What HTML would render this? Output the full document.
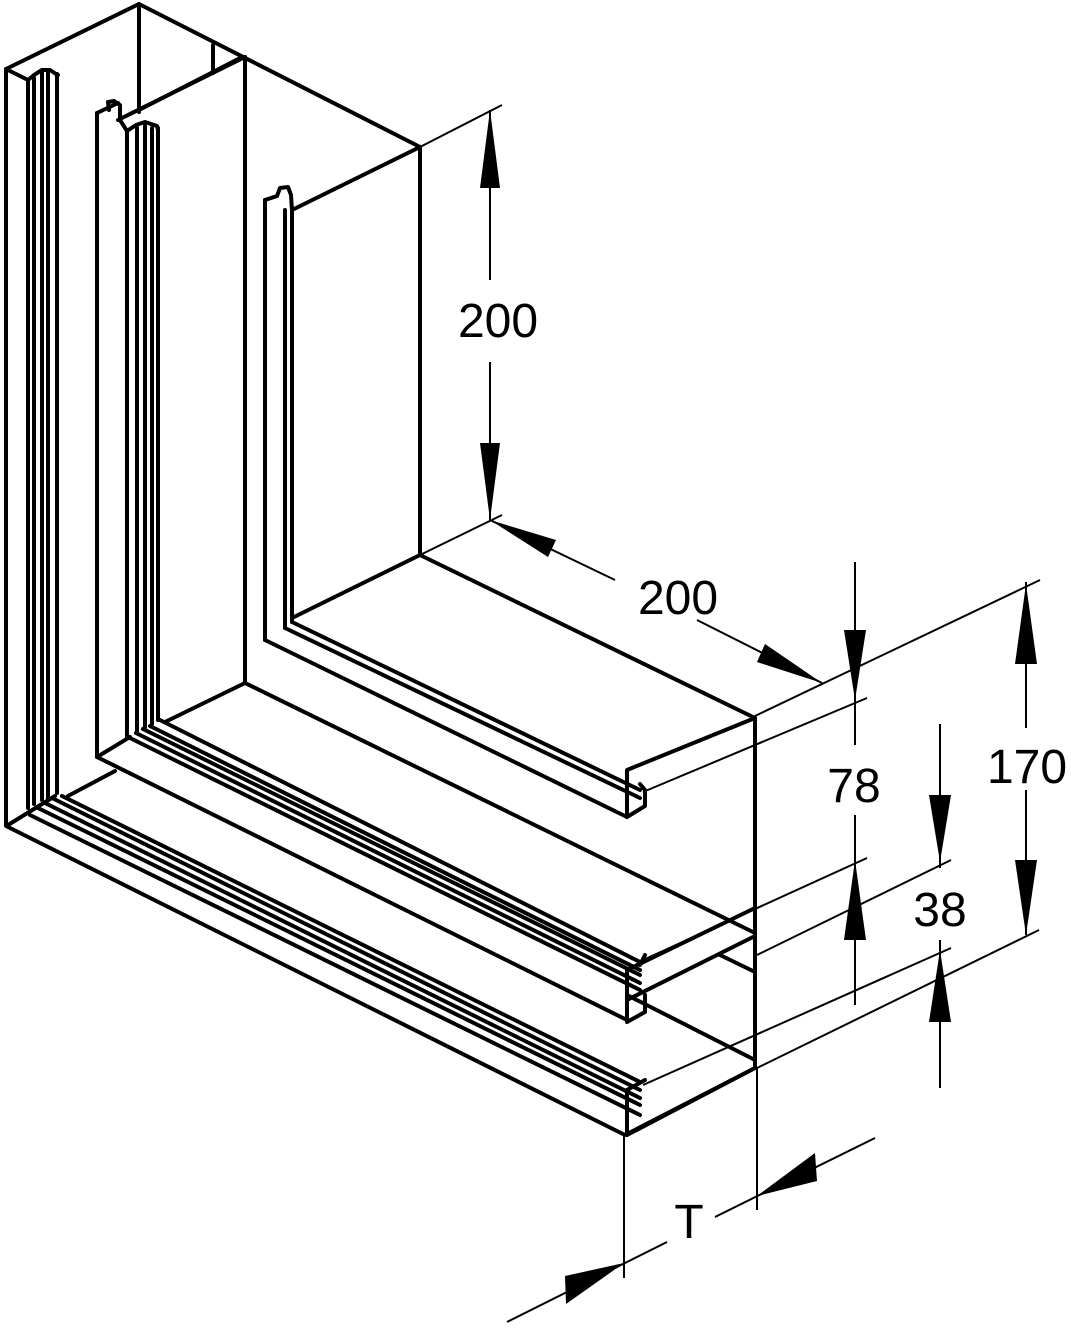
<!DOCTYPE html>
<html><head><meta charset="utf-8"><style>
html,body{margin:0;padding:0;background:#fff;}
svg{display:block;}
text{font-family:"Liberation Sans",Arial,sans-serif;font-size:48px;fill:#000;}
</style></head><body>
<svg width="1071" height="1328" viewBox="0 0 1071 1328" xmlns="http://www.w3.org/2000/svg">
<g fill="none" stroke="#000" stroke-width="4" stroke-linejoin="round" stroke-linecap="round">
<polyline points="6,69 139,4 420,147 420,555 755,718 755,1068 625,1135 6,826 6,69"/>
<line x1="139" y1="4" x2="139" y2="112"/>
<polyline points="6,69 28,80 34,75 42,70 50,70 56,74 58,75"/>
<line x1="28" y1="80" x2="28" y2="808"/>
<line x1="34" y1="78" x2="34" y2="804"/>
<line x1="42" y1="72" x2="42" y2="800"/>
<line x1="48" y1="72" x2="48" y2="798"/>
<line x1="57" y1="74" x2="57" y2="793"/>
<line x1="8" y1="825" x2="55" y2="796"/>
<line x1="30" y1="815" x2="640" y2="1115"/>
<line x1="38" y1="808" x2="640" y2="1105"/>
<line x1="45" y1="803" x2="640" y2="1098"/>
<line x1="52" y1="798" x2="640" y2="1090"/>
<line x1="62" y1="796" x2="640" y2="1082"/>
<line x1="68" y1="796" x2="115" y2="771"/>
<polyline points="97,113 118,103"/>
<polyline points="109,110 108,102 114,101 120,105 120,120"/>
<line x1="118" y1="120" x2="245" y2="57"/>
<line x1="213" y1="45" x2="213" y2="73"/>
<polyline points="139,110 213,72 242,57"/>
<line x1="97" y1="113" x2="97" y2="757"/>
<polyline points="120,120 127,131 136,125 145,122 157,126 158,130"/>
<line x1="127" y1="131" x2="127" y2="737"/>
<line x1="137" y1="128" x2="137" y2="731"/>
<line x1="145" y1="126" x2="145" y2="727"/>
<line x1="152" y1="128" x2="152" y2="724"/>
<line x1="158" y1="128" x2="158" y2="720"/>
<line x1="245" y1="57" x2="245" y2="683"/>
<line x1="97" y1="757" x2="130" y2="737"/>
<line x1="165" y1="722" x2="245" y2="683"/>
<line x1="245" y1="683" x2="755" y2="933"/>
<line x1="97" y1="757" x2="627" y2="1020"/>
<line x1="130" y1="738" x2="640" y2="990"/>
<line x1="136" y1="733" x2="640" y2="983"/>
<line x1="143" y1="729" x2="640" y2="975"/>
<line x1="150" y1="726" x2="640" y2="970"/>
<line x1="160" y1="720" x2="640" y2="962"/>
<line x1="265" y1="200" x2="265" y2="640"/>
<line x1="285" y1="210" x2="285" y2="628"/>
<line x1="292" y1="210" x2="292" y2="622"/>
<polyline points="265,200 277,196 280,188 288,187 291,195 292,210 420,147"/>
<line x1="265" y1="640" x2="627" y2="817"/>
<line x1="285" y1="628" x2="640" y2="798"/>
<line x1="292" y1="622" x2="640" y2="790"/>
<line x1="420" y1="555" x2="292" y2="618"/>
<polyline points="755,718 627,770 627,817 645,806 645,790 640,784"/>
<polyline points="755,908 627,970 627,1022 645,1012 645,995"/>
<polyline points="627,1000 755,936"/>
<polyline points="627,995 755,1060"/>
<polyline points="640,965 645,955"/>
<line x1="720" y1="955" x2="755" y2="972"/>
<line x1="627" y1="1090" x2="645" y2="1080"/>
<line x1="627" y1="1090" x2="627" y2="1135"/>
<line x1="627" y1="1135" x2="755" y2="1068"/>
</g>
<g fill="none" stroke="#000" stroke-width="2">
<line x1="420" y1="147" x2="502" y2="105"/>
<line x1="420" y1="555" x2="502" y2="515"/>
<line x1="755" y1="716" x2="1040" y2="580"/>
<line x1="643" y1="792" x2="867" y2="698"/>
<line x1="643" y1="960" x2="867" y2="858"/>
<line x1="757" y1="955" x2="951" y2="860"/>
<line x1="643" y1="1085" x2="951" y2="948"/>
<line x1="757" y1="1068" x2="1039" y2="930"/>
<line x1="624" y1="1135" x2="624" y2="1278"/>
<line x1="757" y1="1068" x2="757" y2="1210"/>
<line x1="490" y1="110" x2="490" y2="280"/>
<line x1="490" y1="362" x2="490" y2="520"/>
<line x1="490" y1="520" x2="615" y2="580"/>
<line x1="697" y1="620" x2="822" y2="683"/>
<line x1="855" y1="562" x2="855" y2="745"/>
<line x1="855" y1="815" x2="855" y2="1005"/>
<line x1="940" y1="724" x2="940" y2="868"/>
<line x1="940" y1="940" x2="940" y2="1088"/>
<line x1="1026" y1="582" x2="1026" y2="728"/>
<line x1="1026" y1="790" x2="1026" y2="935"/>
<line x1="507" y1="1322" x2="667" y2="1242"/>
<line x1="715" y1="1217" x2="875" y2="1138"/>
</g>
<g fill="#000">
<polygon points="490,110 480,188 500,188"/>
<polygon points="490,520 480,443 500,443"/>
<polygon points="490,520 556,540 548,557"/>
<polygon points="822,683 765,644 757,662"/>
<polygon points="855,700 844,630 866,630"/>
<polygon points="855,860 844,940 866,940"/>
<polygon points="940,862 929,795 951,795"/>
<polygon points="940,950 929,1022 951,1022"/>
<polygon points="1026,584 1015,664 1037,664"/>
<polygon points="1026,935 1015,860 1037,860"/>
<polygon points="624,1263 565,1276 566,1304"/>
<polygon points="757,1196 815,1153 817,1181"/>
</g>
<text x="498" y="337" text-anchor="middle">200</text>
<text x="678" y="614" text-anchor="middle">200</text>
<text x="854" y="802" text-anchor="middle">78</text>
<text x="940" y="926" text-anchor="middle">38</text>
<text x="1027" y="783" text-anchor="middle">170</text>
<text x="689" y="1238" text-anchor="middle">T</text>
</svg>
</body></html>
